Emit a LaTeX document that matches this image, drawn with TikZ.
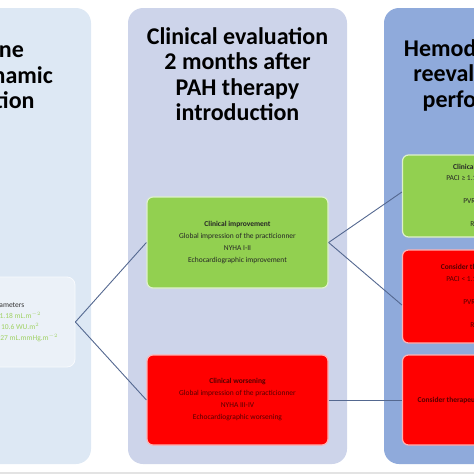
\documentclass[tikz,border=0pt]{standalone}
\usepackage{fontspec}
\setmainfont{Carlito}
\usetikzlibrary{positioning}

\definecolor{basefill}{RGB}{221,232,244}
\definecolor{evalfill}{RGB}{205,212,234}
\definecolor{reevfill}{RGB}{143,170,219}
\definecolor{goodfill}{RGB}{146,208,80}
\definecolor{badfill}{RGB}{255,0,0}
\definecolor{linkcol}{RGB}{84,104,144}
\definecolor{paramtxt}{RGB}{160,210,100}
\definecolor{badtxt}{RGB}{85,0,0}

\tikzset{
  panel/.style = {rounded corners=15pt},
  title/.style = {font=\fontsize{24}{25.5}\selectfont\bfseries, align=center, text=black},
  goodbox/.style = {draw=white!70!goodfill, line width=1.2pt, fill=goodfill, rounded corners=6pt,
    minimum width=181pt, align=center, font=\fontsize{7.5}{12}\selectfont, inner sep=0pt},
  badbox/.style = {goodbox, draw=white!70!red, fill=badfill, text=badtxt},
  link/.style = {draw=linkcol, line width=0.9pt},
}

\begin{document}
\begin{tikzpicture}[x=1pt,y=-1pt]

    \useasboundingbox (0,0) rectangle (474,474);
    \clip (0,0) rectangle (474,474);
    \fill[gray!22] (0,472) rectangle (474,474);

    % the three columns
    \fill[panel, basefill] (-140,8) rectangle (91,464);
    \fill[panel, evalfill] (128,8) rectangle (347,464);
    \fill[panel, reevfill] (384,8) rectangle (620,464);

    \node[title] (basetitle) at (-18,75) {Baseline\\hemodynamic\\evaluation};
    \node[title] (evaltitle) at (237.5,74) {Clinical evaluation\\2 months after\\PAH therapy\\introduction};
    \node[title] (reevtitle) at (476,75) {Hemodynamic\\reevaluation\\performed};

    % baseline parameters
    \node[draw=white!80!basefill, line width=0.8pt, fill=basefill!60!white, rounded corners=8pt,
      minimum width=182pt, minimum height=90pt, align=center, inner sep=0pt,
      font=\fontsize{7.5}{11.3}\selectfont] (param) at (-16,322)
      {\textcolor{black!80}{Hemodynamic parameters}\\
       \textcolor{paramtxt}{Stroke volume index ≥ 31.18 mL.m$^{-2}$}\\
       \textcolor{paramtxt}{Total resistance index ≤ 10.6 WU.m$^{2}$}\\
       \textcolor{paramtxt}{Arterial compliance index ≥ 0.27 mL.mmHg.m$^{-2}$}};

    % clinical evaluation
    \node[goodbox, minimum height=91pt, text=black!85] (better) at (237.5,242.5)
      {\textbf{Clinical improvement}\\Global impression of the practicionner\\NYHA I-II\\Echocardiographic improvement};
    \node[badbox, minimum height=90pt] (worse) at (237.5,400)
      {\textbf{Clinical worsening}\\Global impression of the practicionner\\NYHA III-IV\\Echocardiographic worsening};

    % hemodynamic reevaluation
    \node[goodbox, minimum height=82pt, text=black!85, font=\fontsize{7.5}{11.5}\selectfont] (stable) at (493,196)
      {\textbf{Clinical improvement and}\\PACI ≥ 1.18 mL.mmHg$^{-1}$.m$^{-2}$\\[11.5pt]PVRI ≤ 10.6 WU.m$^{2}$\\[11.5pt]RAP ≤ 8 mmHg};
    \node[badbox, minimum height=93pt, font=\fontsize{7.5}{11.5}\selectfont] (escalate) at (493,296.5)
      {\textbf{Consider therapeutic escalation if}\\PACI < 1.18 mL.mmHg$^{-1}$.m$^{-2}$\\[11.5pt]PVRI > 10.6 WU.m$^{2}$\\[11.5pt]RAP > 8 mmHg};
    \node[badbox, minimum height=90pt] (escalate2) at (493,400)
      {\textbf{Consider therapeutic escalation to triple therapy}};

    \draw[link] (param.east) -- (better.west);
    \draw[link] (param.east) -- (worse.west);
    \draw[link] (better.east) -- ([yshift=4pt]stable.west);
    \draw[link] (better.east) -- ([yshift=-8.5pt]escalate.west);
    \draw[link] (worse.east) -- (escalate2.west);

\end{tikzpicture}
\end{document}
